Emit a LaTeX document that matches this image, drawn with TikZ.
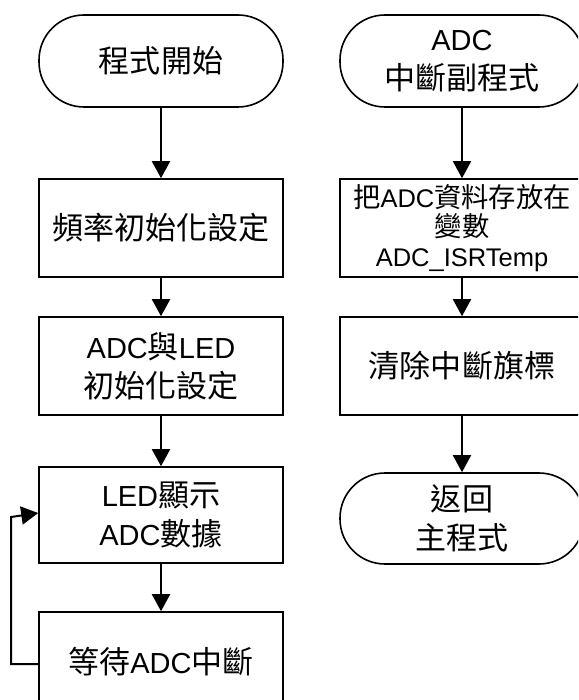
\documentclass[tikz,border=0pt]{standalone}
\usepackage{fontspec}
\setmainfont{Liberation Sans}
\newfontfamily\cjk{Noto Sans CJK TC}[Scale=1.07]
\usetikzlibrary{arrows.meta}
\newcommand{\zh}[1]{{\cjk #1}}
\begin{document}
\begin{tikzpicture}[x=1pt,y=-1pt,
  box/.style={draw=black, line width=1.6pt, rectangle, minimum width=244pt, minimum height=98pt, inner sep=0pt, align=center, font=\fontsize{29}{39}\selectfont},
  smallbox/.style={box, font=\fontsize{25.5}{29.5}\selectfont},
  term/.style={box, rounded corners=45pt, minimum height=92pt},
  flow/.style={line width=2pt, -{Triangle[width=18pt,length=17pt]}}
]
\useasboundingbox (0,0) rectangle (578,700);
\clip (0,0) rectangle (578,700);
% left column
\node[term] (start) at (161,61) {\zh{程式開始}};
\node[box] (f1) at (161,228) {\zh{頻率初始化設定}};
\node[box] (f2) at (161,366) {ADC\zh{與}LED\\\zh{初始化設定}};
\node[box, minimum height=96pt] (f3) at (161,515) {LED\zh{顯示}\\ADC\zh{數據}};
\node[box, minimum height=100pt] (f4) at (161,662) {\zh{等待}ADC\zh{中斷}};
\draw[flow] (start) -- (f1);
\draw[flow] (f1) -- (f2);
\draw[flow] (f2) -- (f3);
\draw[flow] (f3) -- (f4);
\draw[flow] ([yshift=-2pt]f4.west) -| (11,517) -- ([yshift=2pt]f3.west);
% right column
\node[term] (isr) at (462,61) {ADC\\\zh{中斷副程式}};
\node[smallbox] (r1) at (462,228) {\zh{把}ADC\zh{資料存放在}\\\zh{變數}\\ADC\_ISRTemp};
\node[box] (r2) at (462,366) {\zh{清除中斷旗標}};
\node[term, minimum height=91pt] (ret) at (462,518.5) {\zh{返回}\\\zh{主程式}};
\draw[flow] (isr) -- (r1);
\draw[flow] (r1) -- (r2);
\draw[flow] (r2) -- (ret);
\end{tikzpicture}
\end{document}
